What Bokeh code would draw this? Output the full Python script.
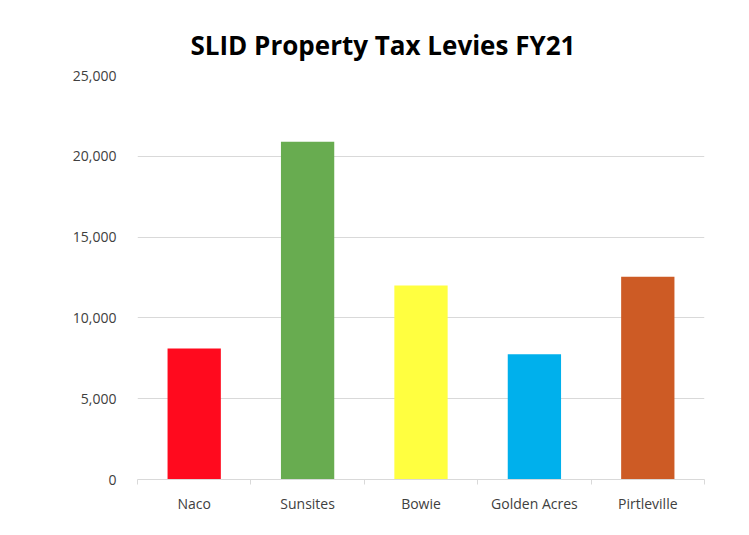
from bokeh.plotting import figure
from bokeh.models import FixedTicker, Range1d, NumeralTickFormatter, ColumnDataSource
from bokeh.embed import file_html
from bokeh.resources import INLINE

categories = ["Naco", "Sunsites", "Bowie", "Golden Acres", "Pirtleville"]
levies = [8100, 20900, 12000, 7750, 12550]
colors = ["#FF0A1E", "#68AC50", "#FFFF40", "#00B0EC", "#CD5B25"]
y_ticks = [0, 5000, 10000, 15000, 20000, 25000]

xs = [i + 0.5 for i in range(len(categories))]
src = ColumnDataSource(dict(x=xs, top=levies, color=colors, name=categories))

p = figure(width=741, height=527, output_backend="svg", toolbar_location=None,
           x_range=Range1d(0, len(categories)), y_range=Range1d(0, 25000),
           title="SLID Property Tax Levies FY21",
           min_border_left=137, min_border_right=37, min_border_top=75, min_border_bottom=48)
p.outline_line_color = None
p.title.align = "left"
p.title.offset = 53
p.title.text_font = "Open Sans"
p.title.text_font_size = "26px"
p.title.text_font_style = "bold"
p.title.text_color = "#000000"
p.title.standoff = 26

p.vbar(x="x", top="top", width=0.47, bottom=0, fill_color="color", line_color=None, source=src)

# y axis
p.yaxis.ticker = FixedTicker(ticks=y_ticks)
p.yaxis.formatter = NumeralTickFormatter(format="0,0")
p.yaxis.axis_line_color = None
p.yaxis.major_tick_line_color = None
p.yaxis.minor_tick_line_color = None
p.yaxis.major_label_text_font = "Open Sans"
p.yaxis.major_label_text_font_size = "14px"
p.yaxis.major_label_text_color = "#404040"
p.yaxis.major_label_standoff = 15

# x axis
p.xaxis.ticker = FixedTicker(ticks=xs, minor_ticks=list(range(len(categories) + 1)))
p.xaxis.major_label_overrides = {x: n for x, n in zip(xs, categories)}
p.xaxis.axis_line_color = "#D9D9D9"
p.xaxis.axis_line_width = 1
p.xaxis.major_tick_line_color = None
p.xaxis.minor_tick_line_color = "#D9D9D9"
p.xaxis.minor_tick_out = 5
p.xaxis.minor_tick_in = 0
p.xaxis.major_label_text_font = "Open Sans"
p.xaxis.major_label_text_font_size = "14px"
p.xaxis.major_label_text_color = "#404040"
p.xaxis.major_label_standoff = 8

p.xgrid.grid_line_color = None
p.ygrid.grid_line_color = "#D9D9D9"
p.ygrid.ticker = FixedTicker(ticks=y_ticks)

open("out.html", "w").write(file_html(p, INLINE))
